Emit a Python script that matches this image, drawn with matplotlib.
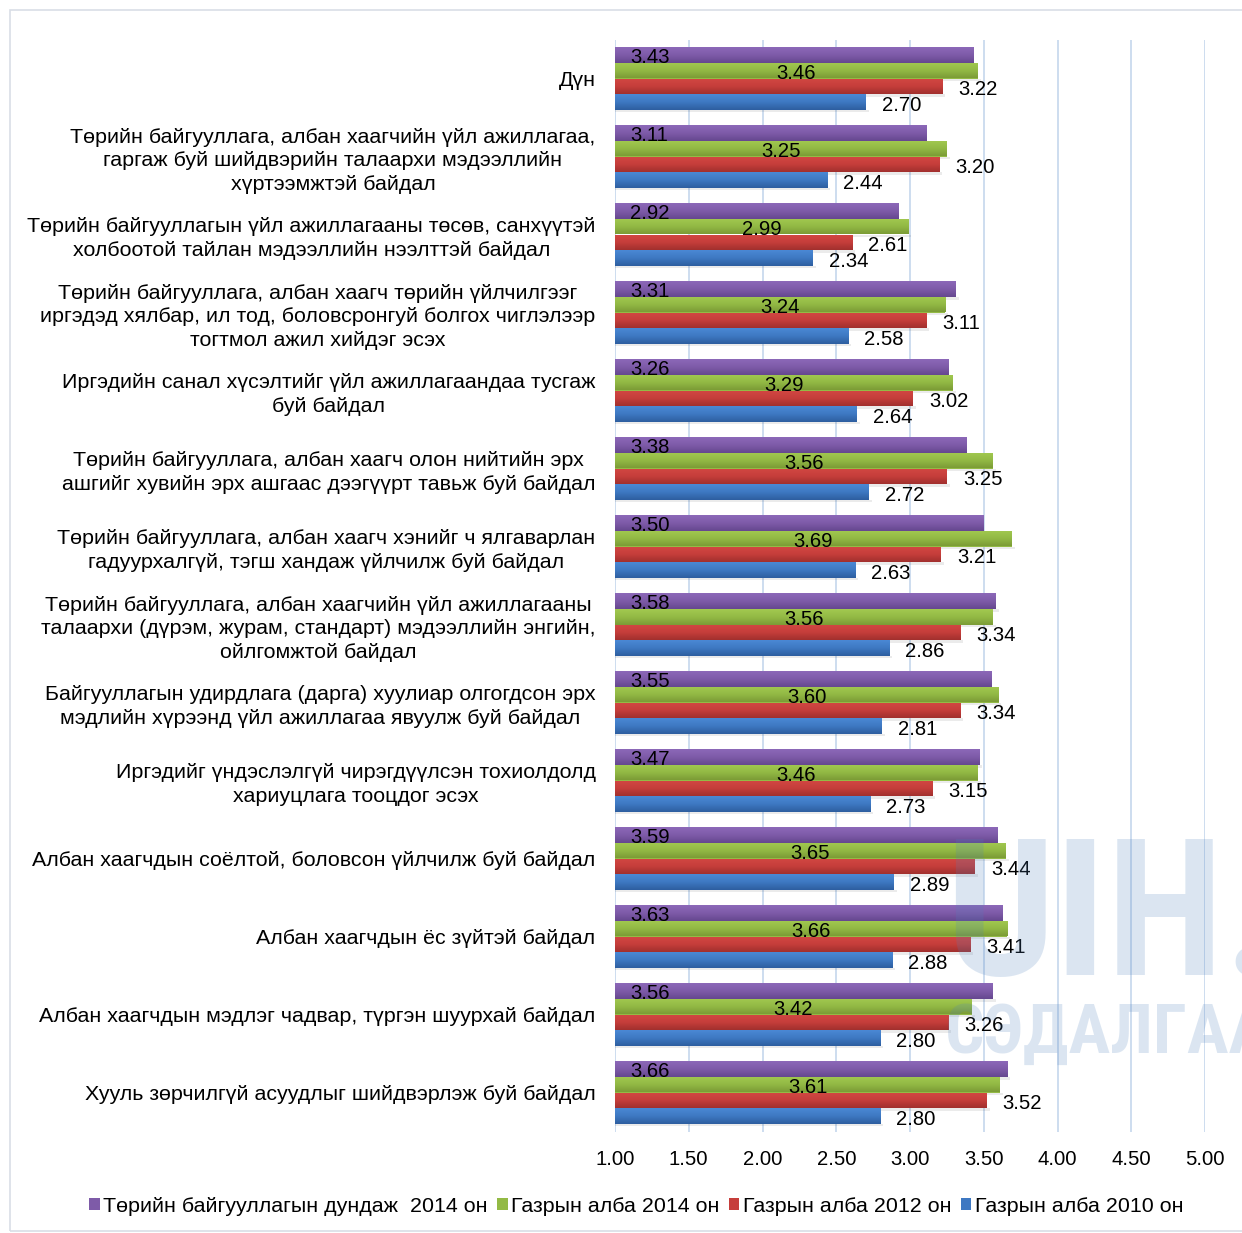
import numpy as np
import matplotlib
matplotlib.use("Agg")
import matplotlib.pyplot as plt
from matplotlib import font_manager as fm
from matplotlib.patches import Patch, Rectangle
from matplotlib.colors import LinearSegmentedColormap

plt.rcParams['font.family'] = ['Liberation Sans', 'DejaVu Sans']

categories = [
    "Дүн",
    "Төрийн байгууллага, албан хаагчийн үйл ажиллагаа,\nгаргаж буй шийдвэрийн талаархи мэдээллийн\nхүртээмжтэй байдал",
    "Төрийн байгууллагын үйл ажиллагааны төсөв, санхүүтэй\nхолбоотой тайлан мэдээллийн нээлттэй байдал",
    "Төрийн байгууллага, албан хаагч төрийн үйлчилгээг\nиргэдэд хялбар, ил тод, боловсронгуй болгох чиглэлээр\nтогтмол ажил хийдэг эсэх",
    "Иргэдийн санал хүсэлтийг үйл ажиллагаандаа тусгаж\nбуй байдал",
    "Төрийн байгууллага, албан хаагч олон нийтийн эрх\nашгийг хувийн эрх ашгаас дээгүүрт тавьж буй байдал",
    "Төрийн байгууллага, албан хаагч хэнийг ч ялгаварлан\nгадуурхалгүй, тэгш хандаж үйлчилж буй байдал",
    "Төрийн байгууллага, албан хаагчийн үйл ажиллагааны\nталаархи (дүрэм, журам, стандарт) мэдээллийн энгийн,\nойлгомжтой байдал",
    "Байгууллагын удирдлага (дарга) хуулиар олгогдсон эрх\nмэдлийн хүрээнд үйл ажиллагаа явуулж буй байдал",
    "Иргэдийг үндэслэлгүй чирэгдүүлсэн тохиолдолд\nхариуцлага тооцдог эсэх",
    "Албан хаагчдын соёлтой, боловсон үйлчилж буй байдал",
    "Албан хаагчдын ёс зүйтэй байдал",
    "Албан хаагчдын мэдлэг чадвар, түргэн шуурхай байдал",
    "Хууль зөрчилгүй асуудлыг шийдвэрлэж буй байдал",
]

series_names = ["Төрийн байгууллагын дундаж  2014 он", "Газрын алба 2014 он",
                "Газрын алба 2012 он", "Газрын алба 2010 он"]

avg_2014 = [3.43, 3.11, 2.92, 3.31, 3.26, 3.38, 3.50, 3.58, 3.55, 3.47, 3.59, 3.63, 3.56, 3.66]
land_2014 = [3.46, 3.25, 2.99, 3.24, 3.29, 3.56, 3.69, 3.56, 3.60, 3.46, 3.65, 3.66, 3.42, 3.61]
land_2012 = [3.22, 3.20, 2.61, 3.11, 3.02, 3.25, 3.21, 3.34, 3.34, 3.15, 3.44, 3.41, 3.26, 3.52]
land_2010 = [2.70, 2.44, 2.34, 2.58, 2.64, 2.72, 2.63, 2.86, 2.81, 2.73, 2.89, 2.88, 2.80, 2.80]

xticks = [1.00, 1.50, 2.00, 2.50, 3.00, 3.50, 4.00, 4.50, 5.00]

series = [avg_2014, land_2014, land_2012, land_2010]
base_colors = ["#7E5BA8", "#93BA45", "#C63E3B", "#3E78C2"]
light_colors = ["#8C68B8", "#A2C950", "#D24743", "#4A88D4"]
dark_colors = ["#664890", "#7C9C36", "#A2302E", "#2E5FA0"]

XMIN, XMAX = xticks[0], xticks[-1]

fig = plt.figure(figsize=(12.42, 12.33), dpi=100)
ax = fig.add_axes([615 / 1242, 1 - 1131.5 / 1233, 590 / 1242, (1131.5 - 39.5) / 1233])

# outer border
fig.patches.append(Rectangle((10 / 1242, 2 / 1233), 1.5, 1 - 12 / 1233,
                             transform=fig.transFigure, fill=False,
                             edgecolor="#D9DEE6", linewidth=1.2))

n = len(categories)
y = np.arange(n)
h = 0.2
offsets = [-0.3, -0.1, 0.1, 0.3]

for k, (vals, off) in enumerate(zip(series, offsets)):
    v = np.array(vals)
    bars = ax.barh(y + off, v - XMIN, left=XMIN, height=h, color=base_colors[k],
                   zorder=3, linewidth=0)
    cmap = LinearSegmentedColormap.from_list("g%d" % k, [light_colors[k], base_colors[k], dark_colors[k]])
    grad = np.linspace(0, 1, 32).reshape(-1, 1)
    for rect in bars:
        x0 = rect.get_x()
        x1 = x0 + rect.get_width()
        y0 = rect.get_y()
        y1 = y0 + rect.get_height()
        im = ax.imshow(grad, extent=(x0, x1, y1, y0), origin="upper", aspect="auto",
                       cmap=cmap, zorder=3.5, interpolation="bilinear")
        im.set_clip_path(rect)
        # subtle shadow
        ax.add_patch(Rectangle((x0, y1), x1 - x0 + 0.02, 0.035, facecolor="#000000",
                               alpha=0.08, zorder=2.5, linewidth=0))

ax.set_xlim(XMIN, XMAX)
ax.set_ylim(n - 0.5, -0.5)

fs_num = 14.6
fs_cat = 15.4
for i in range(n):
    ax.annotate("%.2f" % avg_2014[i], (XMIN, y[i] + offsets[0]), xytext=(11, -1.5),
                textcoords="offset points", ha="left", va="center", fontsize=fs_num, zorder=6)
    ax.annotate("%.2f" % land_2014[i], ((XMIN + land_2014[i]) / 2, y[i] + offsets[1]),
                xytext=(0, -2.2), textcoords="offset points",
                ha="center", va="center", fontsize=fs_num, zorder=6)
    ax.annotate("%.2f" % land_2012[i], (land_2012[i], y[i] + offsets[2]), xytext=(11.5, -2.4),
                textcoords="offset points", ha="left", va="center", fontsize=fs_num, zorder=6)
    ax.annotate("%.2f" % land_2010[i], (land_2010[i], y[i] + offsets[3]), xytext=(11.5, -2.4),
                textcoords="offset points", ha="left", va="center", fontsize=fs_num, zorder=6)

ax.set_xticks(xticks)
ax.set_xticklabels(["%.2f" % t for t in xticks], fontsize=fs_num)
ax.set_yticks(y)
ax.set_yticklabels(categories, fontsize=fs_cat, linespacing=1.3)
for t in ax.get_yticklabels():
    t.set_multialignment("center")
ax.tick_params(axis="x", length=0, pad=13)
ax.tick_params(axis="y", length=0, pad=14)
for s in ax.spines.values():
    s.set_visible(False)
ax.grid(axis="x", color="#C9DAEE", linewidth=1.3, zorder=0)
ax.set_axisbelow(True)

# watermark (narrow font if available)
available = {f.name for f in fm.fontManager.ttflist}
narrow = None
for cand in ["Liberation Sans Narrow", "Roboto Condensed", "Open Sans Condensed",
             "DejaVu Sans Condensed", "Arial Narrow"]:
    if cand in available:
        narrow = cand
        break
if narrow:
    wm_family, big, small = [narrow, "Liberation Sans"], 138, 50
else:
    wm_family, big, small = ["Liberation Sans"], 115, 42
fig.text(945 / 1242, 1 - 975 / 1233, "UIH.MN", fontsize=big, fontweight="bold",
         family=wm_family, color="#4F81BD", alpha=0.2,
         ha="left", va="baseline", zorder=10)
fig.text(945 / 1242, 1 - 1053 / 1233, "СЭДАЛГААНЫ", fontsize=small, fontweight="bold",
         family=wm_family, color="#4F81BD", alpha=0.2,
         ha="left", va="baseline", zorder=10)

handles = [Patch(facecolor=c, edgecolor="none") for c in base_colors]
fig.legend(handles, series_names, loc="center", bbox_to_anchor=(636 / 1242, 1 - 1206 / 1233),
           ncol=4, frameon=False, fontsize=fs_cat, handlelength=0.5, handleheight=0.5,
           handletextpad=0.15, columnspacing=0.45, borderaxespad=0)

fig.savefig("out.png", dpi=100)
